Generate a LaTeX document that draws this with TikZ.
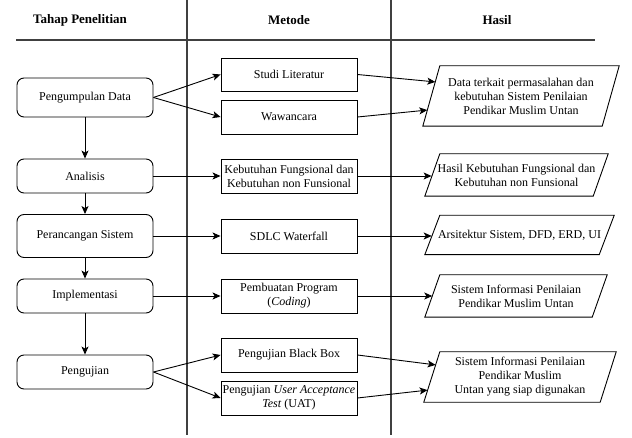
\documentclass[tikz,border=0pt]{standalone}
\usepackage{fontspec}
\setmainfont{Liberation Serif}
\usetikzlibrary{arrows.meta,calc}
\tikzset{
  base/.style={font=\fontsize{12}{14}\selectfont, align=center, inner sep=1pt},
  stage/.style={base, draw, line width=0.9pt, rounded corners=7pt, minimum width=136pt},
  method/.style={base, draw, line width=0.9pt, minimum width=136pt, minimum height=34pt},
  result/.style={base},
  header/.style={font=\fontsize{13}{15}\selectfont\bfseries},
  frame/.style={line width=1.1pt, black!75},
  conn/.style={line width=0.9pt, -{Stealth[length=8pt,width=7pt,inset=2pt]}},
  pshape/.style={line width=0.9pt}
}
\newcommand\drawPara[2]{\draw[pshape] ([xshift=#2]#1.north west) -- (#1.north east) -- ([xshift=-#2]#1.south east) -- (#1.south west) -- cycle;}
\begin{document}
\begin{tikzpicture}[x=1pt,y=-1pt]
\useasboundingbox (0,0) rectangle (632,438);
% frame
\coordinate (v1t) at (187,0); \coordinate (v1b) at (187,435);
\coordinate (v2t) at (391,0); \coordinate (v2b) at (391,435);
\coordinate (hl) at (16,40); \coordinate (hr) at (595,40);
\draw[frame] (v1t) -- (v1b);
\draw[frame] (v2t) -- (v2b);
\draw[frame] (hl) -- (hr);
% headers
\node[header] (h1) at (80,20) {Tahap Penelitian};
\node[header] (h2) at (289,20) {Metode};
\node[header] (h3) at (497,20) {Hasil};
% stages
\node[stage, minimum height=39pt] (s1) at (85,97.5) {Pengumpulan Data};
\node[stage, minimum height=34pt] (s2) at (85,176) {Analisis};
\node[stage, minimum height=43pt] (s3) at (85,236) {Perancangan Sistem};
\node[stage, minimum height=34pt] (s4) at (85,296) {Implementasi};
\node[stage, minimum height=34pt] (s5) at (85,372) {Pengujian};
% methods
\node[method, minimum height=33pt] (m1) at (289,74.5) {Studi Literatur};
\node[method] (m2) at (289,117) {Wawancara};
\node[method] (m3) at (289,176) {Kebutuhan Fungsional dan\\Kebutuhan non Funsional};
\node[method] (m4) at (289,236) {SDLC Waterfall};
\node[method] (m5) at (289,296) {Pembuatan Program\\(\textit{Coding})};
\node[method] (m6) at (289,355) {Pengujian Black Box};
\node[method] (m7) at (289,398) {Pengujian \textit{User Acceptance}\\\textit{Test} (UAT)};
% results
\node[result, minimum width=196pt, minimum height=60pt] (r1) at (521,96) {Data terkait permasalahan dan\\kebutuhan Sistem Penilaian\\Pendikar Muslim Untan};
\node[result, minimum width=183pt, minimum height=42pt] (r2) at (516.5,175) {Hasil Kebutuhan Fungsional dan\\Kebutuhan non Funsional};
\node[result, minimum width=189pt, minimum height=39pt] (r3) at (519.5,235) {Arsitektur Sistem, DFD, ERD, UI};
\node[result, minimum width=182pt, minimum height=42pt] (r4) at (516,296) {Sistem Informasi Penilaian\\Pendikar Muslim Untan};
\node[result, minimum width=192pt, minimum height=50pt] (r5) at (520,377) {Sistem Informasi Penilaian\\Pendikar Muslim\\Untan yang siap digunakan};
\drawPara{r1}{17pt}
\drawPara{r2}{15pt}
\drawPara{r3}{15pt}
\drawPara{r4}{15pt}
\drawPara{r5}{16pt}
% arrow targets on slanted edges
\coordinate (r1a) at ($(r1.south west)!0.733!(r1.north west)+(12.5,0)$);
\coordinate (r1b) at ($(r1.south west)!0.267!(r1.north west)+(4.5,0)$);
\coordinate (r2a) at ($(r2.south west)!0.45!(r2.north west)+(6.8,0)$);
\coordinate (r3a) at ($(r3.south west)!0.46!(r3.north west)+(6.9,0)$);
\coordinate (r4a) at ($(r4.south west)!0.5!(r4.north west)+(7.5,0)$);
\coordinate (r5a) at ($(r5.south west)!0.74!(r5.north west)+(11.8,0)$);
\coordinate (r5b) at ($(r5.south west)!0.24!(r5.north west)+(3.8,0)$);
% stage chain
\draw[conn] (s1) -- (s2);
\draw[conn] (s2) -- (s3);
\draw[conn] (s3) -- (s4);
\draw[conn] (s4) -- (s5);
% stage -> method
\draw[conn] (s1.east) -- (m1.west);
\draw[conn] (s1.east) -- (m2.west);
\draw[conn] (s2.east) -- (m3.west);
\draw[conn] (s3.east) -- (m4.west);
\draw[conn] (s4.east) -- (m5.west);
\draw[conn] (s5.east) -- (m6.west);
\draw[conn] (s5.east) -- (m7.west);
% method -> result
\draw[conn] (m1.east) -- (r1a);
\draw[conn] (m2.east) -- (r1b);
\draw[conn] (m3.east) -- (r2a |- m3.east);
\draw[conn] (m4.east) -- (r3a |- m4.east);
\draw[conn] (m5.east) -- (r4a |- m5.east);
\draw[conn] (m6.east) -- (r5a);
\draw[conn] (m7.east) -- (r5b);
\end{tikzpicture}
\end{document}
